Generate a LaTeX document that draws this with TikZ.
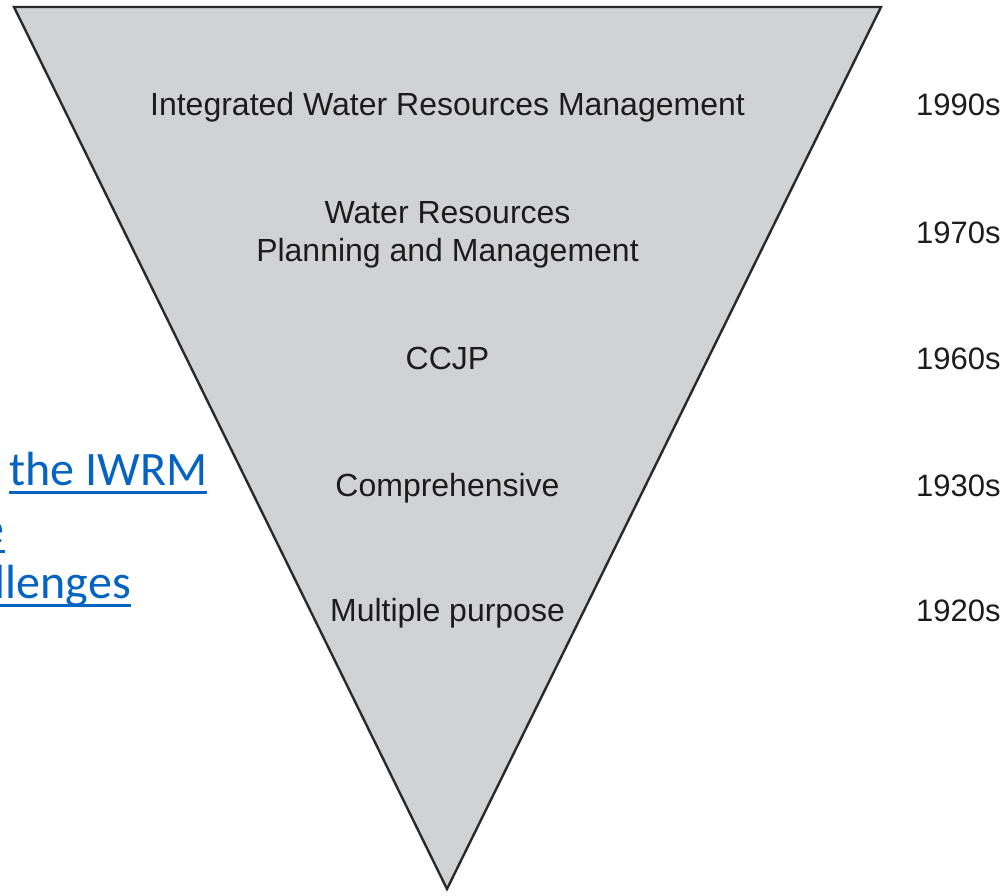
\documentclass[tikz,border=0pt]{standalone}
\usepackage{fontspec}
\setmainfont{Liberation Sans}
\newfontfamily\linkfont{Carlito}
\definecolor{funnelfill}{HTML}{D1D2D4}
\definecolor{funneledge}{HTML}{2A2A2A}
\definecolor{labeltext}{HTML}{1E1B1C}
\definecolor{linkblue}{HTML}{0563C1}
\tikzset{
  stage/.style={anchor=base, inner sep=0pt, text=labeltext, font=\fontsize{32}{38}\selectfont},
  era/.style={anchor=base west, inner sep=0pt, text=labeltext, font=\fontsize{31}{38}\selectfont},
  linktext/.style={inner sep=0pt, text=linkblue, font=\linkfont\fontsize{48}{57}\selectfont},
  linkrule/.style={draw=linkblue, line width=3pt},
  funnel/.style={fill=funnelfill, draw=funneledge, line width=2.4pt}
}
\begin{document}
\begin{tikzpicture}[x=1pt,y=-1pt]
\useasboundingbox (0,0) rectangle (1007,896);
\clip (0,0) rectangle (1007,896);

% hyperlink text lying behind the funnel
\node[linktext, anchor=base west] (link1) at (9,485) {the IWRM};
\node[linktext, anchor=base east] (link2) at (5,544) {e};
\node[linktext, anchor=base east] (link3) at (131,598) {llenges};
\foreach \n in {link1,link2,link3}
  \draw[linkrule] ([yshift=-7.5pt]\n.base west) -- ([yshift=-7.5pt]\n.base east);

% the funnel
\draw[funnel] (14,7) -- (881,7) -- (447,889) -- cycle;

% stages inside the funnel
\node[stage] (iwrm) at (447.5,115.5) {Integrated Water Resources Management};
\node[stage] (wrpm1) at (447.5,223.5) {Water Resources};
\node[stage] (wrpm2) at (447.5,261.5) {Planning and Management};
\node[stage] (ccjp) at (447.5,369.5) {CCJP};
\node[stage] (comp) at (447.5,496.5) {Comprehensive};
\node[stage] (mult) at (447.5,621.5) {Multiple purpose};

% decades
\node[era] (d1990) at (916,115.5) {1990s};
\node[era] (d1970) at (916,243.5) {1970s};
\node[era] (d1960) at (916,369.5) {1960s};
\node[era] (d1930) at (916,496.5) {1930s};
\node[era] (d1920) at (916,621.5) {1920s};
\end{tikzpicture}
\end{document}
